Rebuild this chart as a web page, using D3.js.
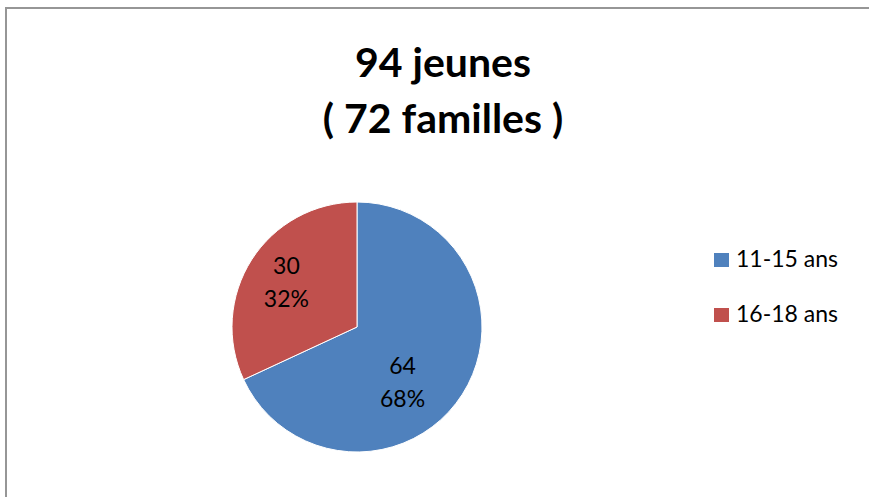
<!DOCTYPE html>
<html><head><meta charset="utf-8">
<script src="https://cdn.jsdelivr.net/npm/d3@7"></script>
<style>
html,body{margin:0;padding:0;background:#fff;overflow:hidden}
svg{display:block}
text{font-family:Lato,"Open Sans",sans-serif;fill:#000}
</style></head>
<body>
<script>
const categories = ["11-15 ans", "16-18 ans"];
const values = [64, 30];
const titleLines = ["94 jeunes", "( 72 familles )"];
const colors = ["#4F81BD", "#C0504D"];

const W = 869, H = 497;
const svg = d3.select("body").append("svg").attr("width", W).attr("height", H);

// chart frame (extends beyond viewport on right/bottom)
svg.append("rect").attr("x", 6).attr("y", 8).attr("width", 900).attr("height", 560)
  .attr("fill", "#fff").attr("stroke", "#969696").attr("stroke-width", 2);

// title
const title = svg.append("text").attr("text-anchor", "middle")
  .attr("font-weight", "bold").attr("font-size", 41);
titleLines.forEach((t, i) => {
  title.append("tspan").attr("x", 443).attr("y", 77 + i * 56).text(t);
});

// pie
const cx = 357, cy = 327, r = 125;
const total = d3.sum(values);
const data = categories.map((c, i) => ({cat: c, value: values[i], color: colors[i]}));
const pie = d3.pie().sort(null).value(d => d.value);
const arcs = pie(data);
const arc = d3.arc().innerRadius(0).outerRadius(r);
const labelArc = d3.arc().innerRadius(r * 0.67).outerRadius(r * 0.67);
const nudge = [[-25, 10], [0, 0]];

const g = svg.append("g").attr("transform", `translate(${cx},${cy})`);
g.selectAll("path").data(arcs).join("path")
  .attr("d", arc).attr("fill", d => d.data.color)
  .attr("stroke", "#fff").attr("stroke-width", 1);

const fmtPct = v => Math.round(v / total * 100) + "%";
arcs.forEach((a, i) => {
  const [x, y] = labelArc.centroid(a);
  const lx = x + nudge[i][0], ly = y + nudge[i][1];
  const t = g.append("text").attr("text-anchor", "middle").attr("font-size", 23);
  t.append("tspan").attr("x", lx).attr("y", ly - 8).text(a.data.value);
  t.append("tspan").attr("x", lx).attr("y", ly + 25).text(fmtPct(a.data.value));
});

// legend
const leg = svg.append("g");
data.forEach((d, i) => {
  const y = 267 + i * 55;
  leg.append("rect").attr("x", 714).attr("y", y - 14).attr("width", 15).attr("height", 14)
    .attr("fill", d.color);
  leg.append("text").attr("x", 736).attr("y", y).attr("font-size", 23).text(d.cat);
});
</script>
</body></html>
